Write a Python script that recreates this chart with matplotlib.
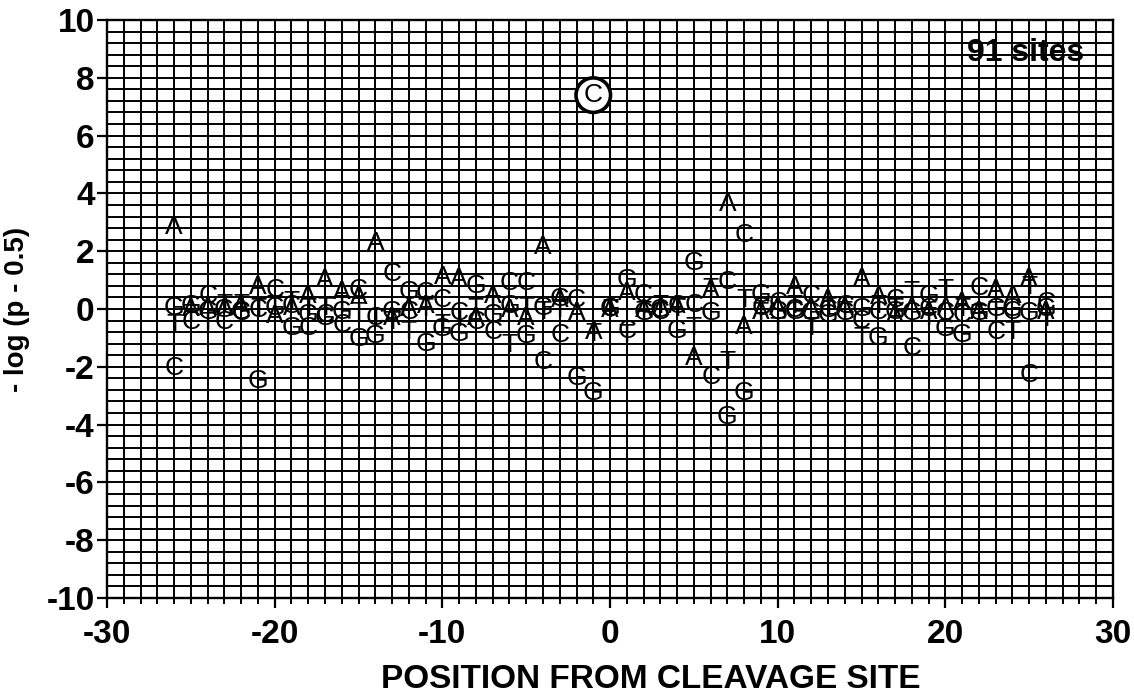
import matplotlib
matplotlib.use("Agg")
import matplotlib.pyplot as plt
from matplotlib.ticker import MultipleLocator

plt.rcParams['font.family'] = ['Liberation Sans', 'DejaVu Sans']
plt.rcParams['axes.unicode_minus'] = False

# position relative to the cleavage site
positions = list(range(-26, 27))

# -log(p - 0.5) for each base at each position
a_vals = [2.85, 0.0, 0.05, 0.05, 0.1, 0.75, -0.25, 0.05, 0.45, 1.0,
          0.6, 0.4, 2.3, -0.3, 0.0, 0.1, 1.1, 1.05, -0.3, 0.45,
          -0.05, -0.3, 2.15, 0.3, -0.15, -0.8, -0.05, 0.55, -0.05, 0.05,
          0.1, -1.7, 0.65, 3.65, -0.62, -0.1, 0.05, 0.75, 0.05, 0.3,
          0.05, 1.05, 0.4, -0.2, 0.05, -0.1, 0.05, 0.2, -0.1, 0.65,
          0.45, 1.05, -0.1]
c_vals = [-2.05, -0.45, 0.45, -0.45, -0.15, -0.05, 0.65, 0.1, -0.65, -0.2,
          -0.55, 0.65, -0.3, 1.2, -0.1, 0.55, 0.3, -0.15, -0.45, -0.8,
          0.9, 0.9, -1.85, -0.9, 0.3, 7.4, 0.0, -0.75, 0.5, -0.1,
          0.1, 0.15, -2.35, 0.95, 2.55, 0.05, 0.2, -0.05, 0.45, -0.05,
          0.1, -0.4, -0.1, 0.3, -1.35, 0.0, -0.15, -0.2, 0.72, -0.8,
          -0.1, -2.3, 0.2]
g_vals = [0.05, 0.1, -0.1, -0.05, -0.1, -2.5, 0.05, -0.65, -0.2, -0.3,
          -0.1, -1.05, -0.95, -0.1, 0.6, -1.2, -0.7, -0.85, 0.8, -0.2,
          0.1, -0.95, 0.05, 0.35, -2.4, -2.9, 0.0, 1.0, -0.15, -0.05,
          -0.75, 1.6, -0.15, -3.75, -2.9, 0.5, -0.1, -0.1, -0.15, -0.2,
          -0.15, 0.0, -1.0, -0.1, -0.15, 0.45, -0.7, -0.9, -0.15, 0.0,
          0.0, -0.15, 0.0]
t_vals = [-0.55, -0.2, -0.5, 0.15, 0.15, 0.0, 0.1, 0.25, 0.0, 0.05,
          0.1, -0.15, -0.35, -0.45, -0.8, 0.0, -0.55, -0.35, 0.0, 0.1,
          -1.25, 0.05, -0.1, -0.05, 1.25, -0.85, -0.05, -0.9, -0.1, 0.1,
          0.0, -0.65, 0.7, -1.85, 0.3, -0.15, -0.65, 0.1, -0.65, 0.05,
          -0.1, -1.0, 0.1, 0.0, 0.6, -0.3, 0.65, 0.0, -0.2, -0.1,
          -0.8, 0.75, -0.35]

bases = ["A", "C", "G", "T"]
base_vals = [a_vals, c_vals, g_vals, t_vals]
circled = (-1, "C")
n_sites = 91

fig = plt.figure(figsize=(11.34, 6.95), dpi=100)
ax = fig.add_axes([0.0944, 0.1396, 0.8871, 0.8316])
ax.set_xlim(-30, 30)
ax.set_ylim(-10, 10)

ax.xaxis.set_major_locator(MultipleLocator(10))
ax.xaxis.set_minor_locator(MultipleLocator(1))
ax.yaxis.set_major_locator(MultipleLocator(2))
ax.yaxis.set_minor_locator(MultipleLocator(0.4))
ax.grid(which="both", color="black", linewidth=1.4)
ax.set_axisbelow(True)

for s in ax.spines.values():
    s.set_linewidth(1.7)

ax.tick_params(axis="both", which="major", length=7, width=1.6,
               labelsize=24)
ax.tick_params(axis="x", which="major", pad=8)
ax.tick_params(axis="y", which="major", pad=2)
ax.tick_params(axis="x", which="minor", length=4, width=1.4)
ax.tick_params(axis="y", which="minor", length=0)
for lab in ax.get_xticklabels() + ax.get_yticklabels():
    lab.set_fontweight("bold")

# letters
for base, vals in zip(bases, base_vals):
    for p, v in zip(positions, vals):
        if (p, base) == circled:
            ax.text(p, v, base, ha="center", va="center", fontsize=19,
                    zorder=4,
                    bbox=dict(boxstyle="circle,pad=0.2", fc="white",
                              ec="black", lw=2.6))
        else:
            ax.text(p, v, base, ha="center", va="center", fontsize=19,
                    zorder=3)

ax.text(28.3, 8.86, f"{n_sites} sites", ha="right", va="center",
        fontsize=23, fontweight="bold", zorder=3)

ax.set_ylabel("- log (p - 0.5)", fontsize=20, fontweight="bold")
ax.yaxis.set_label_coords(-0.077, 0.5)
ax.set_xlabel("POSITION FROM CLEAVAGE SITE", fontsize=24, fontweight="bold",
              va="center")
ax.xaxis.set_label_coords(0.54, -0.141)

fig.savefig("out.png", dpi=100)
